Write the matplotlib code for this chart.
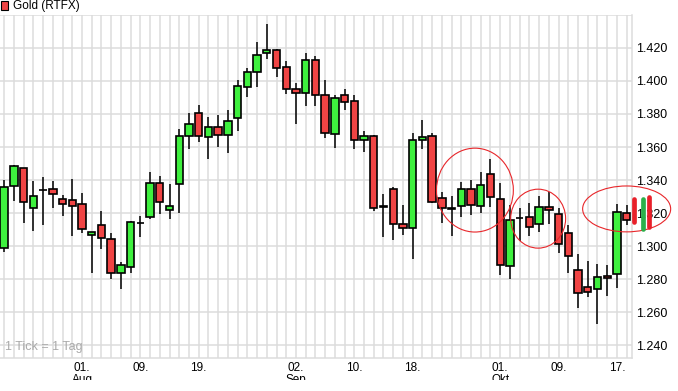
import numpy as np
import pandas as pd
import matplotlib
matplotlib.use("Agg")
import matplotlib.pyplot as plt
from matplotlib.patches import Ellipse, Rectangle
from matplotlib.lines import Line2D
from matplotlib.transforms import Bbox, TransformedBbox

plt.rcParams['font.family'] = ['Liberation Sans', 'DejaVu Sans']

# Gold (RTFX), daily candles 22.07.2013 - 18.10.2013
dates = pd.bdate_range('2013-07-22', '2013-10-18')

opens = [1.2987, 1.3364, 1.3471, 1.3229, 1.3342, 1.3344, 1.3283, 1.3277, 1.3255, 1.3065,
         1.3126, 1.3045, 1.2836, 1.2872, 1.3138, 1.3174, 1.3380, 1.3217, 1.3374, 1.3664,
         1.3804, 1.3658, 1.3719, 1.3670, 1.3773, 1.3961, 1.4052, 1.4167, 1.4185, 1.4082,
         1.3949, 1.3928, 1.4124, 1.3918, 1.3676, 1.3918, 1.3876, 1.3640, 1.3664, 1.3241,
         1.3346, 1.3134, 1.3108, 1.3644, 1.3666, 1.3289, 1.3231, 1.3243, 1.3344, 1.3243,
         1.3434, 1.3287, 1.2880, 1.3172, 1.3174, 1.3132, 1.3235, 1.3192, 1.3078, 1.2854,
         1.2751, 1.2739, 1.2821, 1.2830, 1.3199]
highs = [1.3400, 1.3491, 1.3475, 1.3394, 1.3416, 1.3394, 1.3309, 1.3406, 1.3323, 1.3086,
         1.3211, 1.3079, 1.2902, 1.3150, 1.3180, 1.3448, 1.3424, 1.3376, 1.3707, 1.3804,
         1.3852, 1.3779, 1.3795, 1.3824, 1.4005, 1.4078, 1.4239, 1.4344, 1.4194, 1.4118,
         1.3985, 1.4167, 1.4154, 1.4005, 1.3918, 1.3951, 1.3918, 1.3695, 1.3672, 1.3315,
         1.3356, 1.3249, 1.3686, 1.3763, 1.3686, 1.3329, 1.3303, 1.3388, 1.3400, 1.3448,
         1.3525, 1.3384, 1.3249, 1.3231, 1.3259, 1.3303, 1.3329, 1.3229, 1.3128, 1.2952,
         1.2912, 1.2892, 1.2884, 1.3255, 1.3249]
lows = [1.2966, 1.3275, 1.3138, 1.3093, 1.3128, 1.3232, 1.3184, 1.3063, 1.3081, 1.2839,
        1.2981, 1.2799, 1.2739, 1.2836, 1.3057, 1.3166, 1.3192, 1.3166, 1.3198, 1.3586,
        1.3632, 1.3525, 1.3601, 1.3562, 1.3695, 1.3900, 1.3961, 1.4136, 1.4027, 1.3920,
        1.3739, 1.3850, 1.3850, 1.3656, 1.3595, 1.3824, 1.3586, 1.3571, 1.3214, 1.3057,
        1.3037, 1.3067, 1.2922, 1.3589, 1.3259, 1.3142, 1.3061, 1.3174, 1.3190, 1.3202,
        1.3235, 1.2827, 1.2799, 1.3031, 1.3063, 1.3087, 1.3132, 1.2957, 1.2836, 1.2624,
        1.2694, 1.2525, 1.2700, 1.2748, 1.3128]
closes = [1.3356, 1.3485, 1.3265, 1.3301, 1.3339, 1.3314, 1.3253, 1.3241, 1.3102, 1.3084,
          1.3047, 1.2836, 1.2884, 1.3144, 1.3138, 1.3380, 1.3265, 1.3243, 1.3664, 1.3737,
          1.3666, 1.3719, 1.3670, 1.3759, 1.3969, 1.4052, 1.4160, 1.4185, 1.4078, 1.3949,
          1.3928, 1.4124, 1.3918, 1.3683, 1.3894, 1.3870, 1.3640, 1.3664, 1.3229, 1.3237,
          1.3132, 1.3108, 1.3642, 1.3660, 1.3265, 1.3229, 1.3227, 1.3344, 1.3249, 1.3368,
          1.3295, 1.2884, 1.3158, 1.3168, 1.3114, 1.3235, 1.3218, 1.3013, 1.2938, 1.2714,
          1.2721, 1.2815, 1.2809, 1.3205, 1.3156]

tick_dates = ['2013-08-01', '2013-08-09', '2013-08-19', '2013-09-02', '2013-09-10',
              '2013-09-18', '2013-10-01', '2013-10-09', '2013-10-17']
tick_labels = ['01.', '09.', '19.', '02.', '10.', '18.', '01.', '09.', '17.']
month_dates = ['2013-08-01', '2013-09-02', '2013-10-01']
month_labels = ['Aug', 'Sep', 'Okt']
price_ticks = [1.24, 1.26, 1.28, 1.30, 1.32, 1.34, 1.36, 1.38, 1.40, 1.42, 1.44]

GREEN = '#3ef03e'
RED = '#f04444'
GRID = '#dcdcdc'

fig = plt.figure(figsize=(6.78, 3.91), dpi=100)
ax = fig.add_axes([0, 1 - 358 / 391, 632 / 678, (358 - 14.6) / 391])

x = np.arange(len(dates))
o = np.array(opens)
c = np.array(closes)
up = c > o
colors = np.where(up, GREEN, RED)

ax.vlines(x, lows, highs, color='black', linewidth=1.1, zorder=3)
ax.bar(x, c - o, bottom=o, width=0.76, color=colors, edgecolor='black',
       linewidth=1.2, zorder=4)

# Markierungen (Kreise)
for cx, cy, w, h in [(48.4, 1.3339, 7.9, 0.0508), (54.9, 1.3166, 5.65, 0.0357),
                     (64.0, 1.3225, 9.05, 0.0278)]:
    ax.add_patch(Ellipse((cx, cy), w, h, fill=False, edgecolor='#e8262a',
                         linewidth=0.8, clip_on=False, zorder=6))

ax.set_xlim(-0.43, 64.55)
ax.set_ylim(1.2322, 1.4402)

ax.set_yticks(price_ticks)
ax.set_yticklabels(['%.3f' % p if p < 1.43 else '' for p in price_ticks])
ax.yaxis.tick_right()
ax.tick_params(axis='y', length=0, pad=3, labelsize=9, colors='black')

pos = {d: i for i, d in enumerate(dates.strftime('%Y-%m-%d'))}
ax.set_xticks(x, minor=True)
ax.set_xticks([pos[d] for d in tick_dates])
ax.set_xticklabels(tick_labels)
ax.tick_params(axis='x', which='both', length=0, pad=3, labelsize=8.5)

ax.grid(True, which='minor', axis='x', color=GRID, linewidth=1.1, zorder=0)
ax.grid(True, which='major', axis='both', color=GRID, linewidth=1.1, zorder=0)
ax.set_axisbelow(True)

for s in ['left', 'top']:
    ax.spines[s].set_visible(False)
for s in ['right', 'bottom']:
    ax.spines[s].set_color(GRID)
    ax.spines[s].set_linewidth(1.1)

clip = TransformedBbox(Bbox([[0, 1 - 380 / 391], [1, 1 - 360 / 391]]), fig.transFigure)
for d, m in zip(month_dates, month_labels):
    t = ax.text(pos[d], 1 - 374 / 391, m, transform=ax.get_xaxis_transform(),
                ha='center', va='top', fontsize=8.5)
    t.set_transform(matplotlib.transforms.blended_transform_factory(ax.transData, fig.transFigure))
    t.set_clip_box(clip)
    t.set_clip_on(True)

ax.text(0.008, 0.033, '1 Tick = 1 Tag', transform=ax.transAxes, fontsize=9,
        color='#aaaaaa', ha='left', va='center')

# Legende oben links
fig.add_artist(Rectangle((0.5 / 678, 1 - 10 / 391), 7.5 / 678, 9 / 391, transform=fig.transFigure,
                         facecolor=RED, edgecolor='black', linewidth=0.8))
fig.text(13 / 678, 1 - 6 / 391, 'Gold (RTFX)', fontsize=8.5, ha='left', va='center')

# kleines Symbol rechts
for xp, y0, y1, col in [(633.5, 199.5, 222.0, '#e8202a'), (642.5, 199.5, 229.0, '#2bb04a'),
                        (648.5, 197.0, 226.5, '#e8202a')]:
    fig.add_artist(Line2D([xp / 678, xp / 678], [1 - y0 / 391, 1 - y1 / 391],
                          transform=fig.transFigure, color=col, linewidth=3.4,
                          solid_capstyle='round'))

fig.savefig('out.png', dpi=100, facecolor='white')
